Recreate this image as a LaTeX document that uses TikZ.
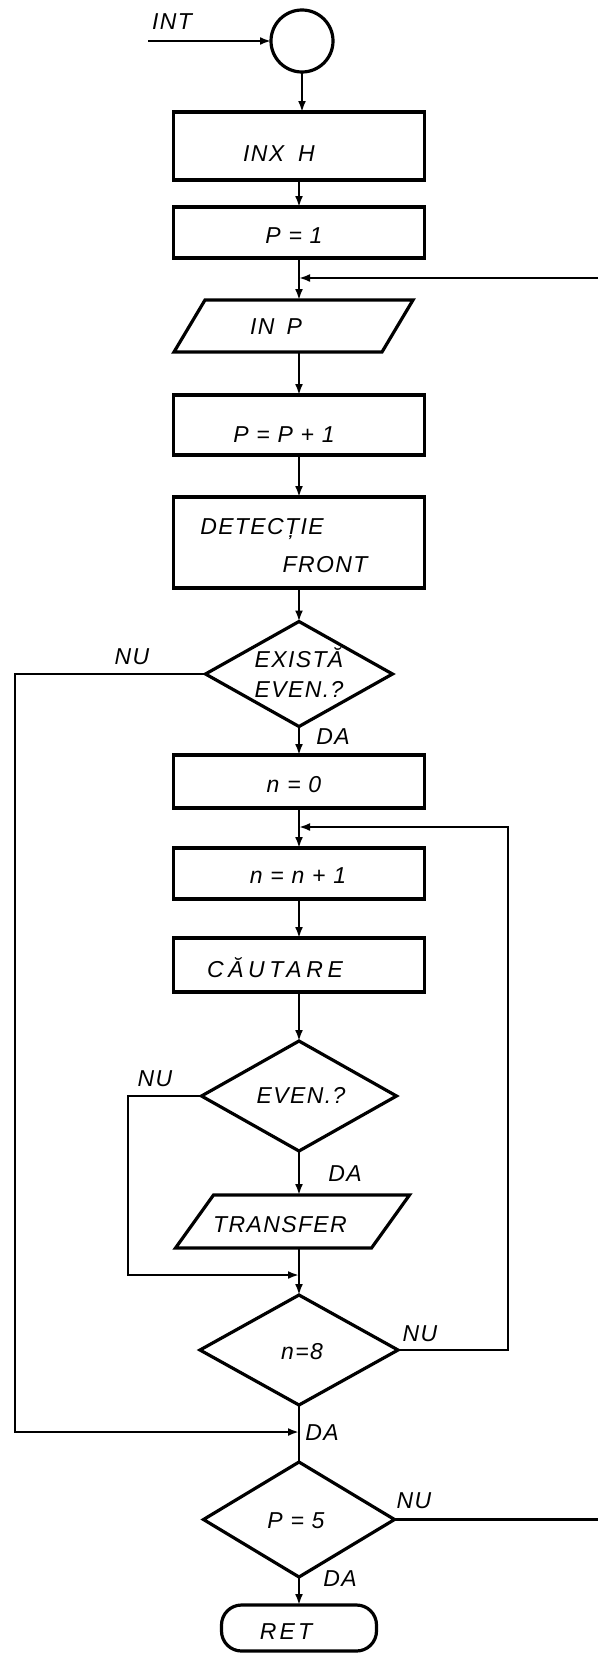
\documentclass[tikz,border=0pt]{standalone}
\usepackage{fontspec}
\setmainfont{Liberation Sans}[LetterSpace=6]
\usetikzlibrary{arrows.meta,shapes.geometric}
\begin{document}
\begin{tikzpicture}[x=1pt,y=-1pt,
  shp/.style={draw=black, line width=3.2pt, inner sep=0pt, outer sep=0pt},
  boxnode/.style={shp, rectangle, minimum width=251pt},
  dnode/.style={shp, diamond},
  plnode/.style={inner sep=0pt, outer sep=0pt},
  lbl/.style={inner sep=0pt, font=\itshape\fontsize{23pt}{30pt}\selectfont},
  con/.style={line width=2.2pt},
  arr/.style={con, -{Latex[length=11pt,width=8pt]}},
]
\useasboundingbox (0,0) rectangle (598,1654);

% ---- nodes ----
\node[shp, circle, minimum size=62pt] (start) at (302,41) {};
\coordinate (intin) at (148,41);
\node[lbl] (tint) at (172,22) {INT};

\node[boxnode, minimum height=68pt] (inx) at (299,146) {};
\node[lbl] (tinx) at (279,154) {INX\hspace{14pt}H};

\node[boxnode, minimum height=51pt] (p1) at (299,232.5) {};
\node[lbl] (tp1) at (294,236) {P = 1};

\node[plnode, minimum width=208pt, minimum height=52pt] (inp) at (293.5,326) {};
\draw[shp] ([xshift=15.5pt]inp.north west) -- ([xshift=15.5pt]inp.north east)
  -- ([xshift=-15.5pt]inp.south east) -- ([xshift=-15.5pt]inp.south west) -- cycle;
\node[lbl] (tinp) at (276,327) {IN\hspace{12pt}P};

\node[boxnode, minimum height=60pt] (pp) at (299,425) {};
\node[lbl] (tpp) at (284,435) {P = P + 1};

\node[boxnode, minimum height=91pt] (det) at (299,542.5) {};
\node[lbl] (tdet1) at (262,529) {DETECȚIE};
\node[lbl] (tdet2) at (325,565) {FRONT};

\node[dnode, minimum width=187pt, minimum height=105pt] (ex) at (299,674) {};
\node[lbl, align=center] (tex) at (299,673) {EXISTĂ\\EVEN.?};
\node[lbl] (tnu1) at (132,657) {NU};
\node[lbl] (tda1) at (333,737) {DA};

\node[boxnode, minimum height=53pt] (n0) at (299,781.5) {};
\node[lbl] (tn0) at (294,785) {n = 0};

\node[boxnode, minimum height=51pt] (n1) at (299,873.5) {};
\node[lbl] (tn1) at (298,876) {n = n + 1};

\node[boxnode, minimum height=54pt] (cau) at (299,965) {};
\node[lbl] (tcau) at (275,968) {\addfontfeature{LetterSpace=20}CĂUTARE};

\node[dnode, minimum width=195pt, minimum height=110pt] (ev) at (299,1096) {};
\node[lbl] (tev) at (301,1095) {EVEN.?};
\node[lbl] (tnu2) at (155,1079) {NU};
\node[lbl] (tda2) at (345,1174) {DA};

\node[plnode, minimum width=196pt, minimum height=53pt] (tr) at (292.5,1221.5) {};
\draw[shp] ([xshift=19pt]tr.north west) -- ([xshift=19pt]tr.north east)
  -- ([xshift=-19pt]tr.south east) -- ([xshift=-19pt]tr.south west) -- cycle;
\node[lbl] (ttr) at (280,1225) {TRANSFER};

\node[dnode, minimum width=198pt, minimum height=110pt] (n8) at (299,1350) {};
\node[lbl] (tn8) at (302,1352) {n=8};
\node[lbl] (tnu3) at (420,1334) {NU};
\node[lbl] (tda3) at (322,1433) {DA};

\node[dnode, minimum width=191pt, minimum height=115pt] (p5) at (299,1519.5) {};
\node[lbl] (tp5) at (296,1521) {P = 5};
\node[lbl] (tnu4) at (414,1501) {NU};
\node[lbl] (tda4) at (340,1579) {DA};

\node[shp, rectangle, rounded corners=20pt, minimum width=155pt, minimum height=46pt] (ret) at (299,1628) {};
\node[lbl] (tret) at (286,1632) {\addfontfeature{LetterSpace=14}RET};

\coordinate (rtop) at (598,278);
\coordinate (rbot) at (598,1519.5);
\coordinate (lr) at (508,827);
\coordinate (ln) at (128,1275);
\coordinate (lo) at (15,1432);

% ---- connectors ----
\draw[arr] (intin) -- (start.west);
\draw[arr] (start.south) -- (start.south |- inx.north);
\draw[arr] (inx) -- (p1);
\draw[arr] (p1.south) -- (p1.south |- inp.north);
\draw[arr] (rtop) -- (rtop -| p1.south);
\draw[arr] (inp.south -| pp.north) -- (pp.north);
\draw[arr] (pp) -- (det);
\draw[arr] (det) -- (ex);
\draw[arr] (ex) -- (n0);
\draw[arr] (n0) -- (n1);
\draw[arr] (n1) -- (cau);
\draw[arr] (cau) -- (ev);
\draw[arr] (ev.south) -- (ev.south |- tr.north);
\draw[arr] (tr.south -| n8.north) -- (n8.north);
\draw[arr] (ev.west) -| (ln) -- (ln -| n8.north);
\draw[arr] (n8.east) -| (lr) -- (lr -| n1.north);
\draw[con] (n8) -- (p5);
\draw[arr] (ex.west) -| (lo) -- (lo -| n8.south);
\draw[con] (p5.east) -- (rbot);
\draw[arr] (p5) -- (ret);
\end{tikzpicture}
\end{document}
